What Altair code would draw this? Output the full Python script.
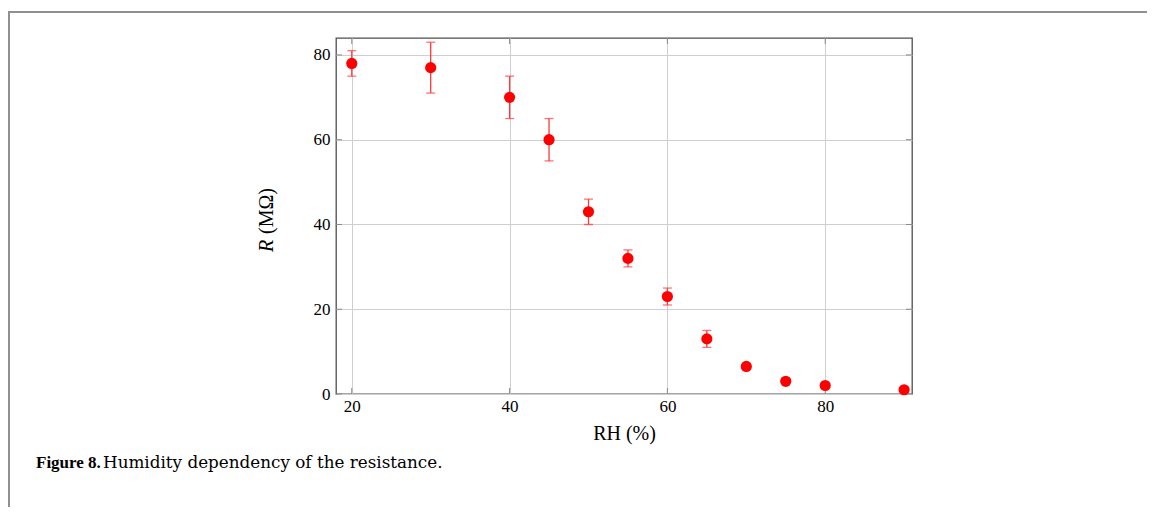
import altair as alt
import pandas as pd

rh = [20, 30, 40, 45, 50, 55, 60, 65, 70, 75, 80, 90]
r = [78, 77, 70, 60, 43, 32, 23, 13, 6.5, 3, 2, 1]
err_rh = [20, 30, 40, 45, 50, 55, 60, 65]
err_lo = [75, 71, 65, 55, 40, 30, 21, 11]
err_hi = [81, 83, 75, 65, 46, 34, 25, 15]
x_ticks = [20, 40, 60, 80]
y_ticks = [0, 20, 40, 60, 80]

df = pd.DataFrame({"rh": rh, "r": r})
de = pd.DataFrame({"rh": err_rh, "lo": err_lo, "hi": err_hi})
dxt = pd.DataFrame({"rh": x_ticks})
dyt = pd.DataFrame({"r": y_ticks})

FONT = "Liberation Serif"
W, H = 576, 356
TICK = 6
TICK_COLOR = "#8a8a8a"

xs = alt.Scale(domain=[18, 91], nice=False, zero=False)
ys = alt.Scale(domain=[0, 84], nice=False)

xaxis = alt.Axis(values=x_ticks, title="RH (%)", grid=True, gridColor="#cfcfcf",
                 ticks=False, domain=False, labelFont=FONT, labelFontSize=17,
                 labelColor="#000", titleFont=FONT, titleFontSize=20,
                 titleFontWeight="normal", titleColor="#000", labelPadding=4,
                 titlePadding=9)
yaxis = alt.Axis(values=y_ticks, title="", grid=True, gridColor="#cfcfcf",
                 ticks=False, domain=False, labelFont=FONT, labelFontSize=17,
                 labelColor="#000", labelPadding=6)

def X(field):
    return alt.X(field + ":Q", scale=xs, axis=xaxis, title="RH (%)")

def Y(field):
    return alt.Y(field + ":Q", scale=ys, axis=yaxis, title="")

points = alt.Chart(df).mark_circle(size=125, color="#ff0000", opacity=1).encode(
    x=X("rh"), y=Y("r"))

ebars = alt.Chart(de).mark_rule(color="#ff3838", strokeWidth=1.3).encode(
    x=X("rh"), y=Y("lo"), y2="hi:Q")
cap_lo = alt.Chart(de).mark_tick(color="#ff3838", thickness=1.3, size=9, orient="horizontal").encode(
    x=X("rh"), y=Y("lo"))
cap_hi = alt.Chart(de).mark_tick(color="#ff3838", thickness=1.3, size=9, orient="horizontal").encode(
    x=X("rh"), y=Y("hi"))

# inward ticks on all four sides
xt_bot = alt.Chart(dxt).mark_rule(color=TICK_COLOR, strokeWidth=1).encode(
    x=X("rh"), y=alt.value(H), y2=alt.value(H - TICK))
xt_top = alt.Chart(dxt).mark_rule(color=TICK_COLOR, strokeWidth=1).encode(
    x=X("rh"), y=alt.value(0), y2=alt.value(TICK))
yt_left = alt.Chart(dyt).mark_rule(color=TICK_COLOR, strokeWidth=1).encode(
    y=Y("r"), x=alt.value(0), x2=alt.value(TICK))
yt_right = alt.Chart(dyt).mark_rule(color=TICK_COLOR, strokeWidth=1).encode(
    y=Y("r"), x=alt.value(W), x2=alt.value(W - TICK))

# ylabel with italic R
ylab_r = alt.Chart(pd.DataFrame({"t": ["R"]})).mark_text(
    font=FONT, fontSize=20, fontStyle="italic", angle=270, align="left",
    baseline="middle", color="#000").encode(
    text="t:N", x=alt.value(-69), y=alt.value(214))
ylab_u = alt.Chart(pd.DataFrame({"t": ["(MΩ)"]})).mark_text(
    font=FONT, fontSize=20, angle=270, align="left",
    baseline="middle", color="#000").encode(
    text="t:N", x=alt.value(-69), y=alt.value(196))

# caption
cap1 = alt.Chart(pd.DataFrame({"t": ["Figure 8."]})).mark_text(
    font=FONT, fontSize=17, fontWeight="bold", align="left",
    baseline="middle", color="#000").encode(
    text="t:N", x=alt.value(-300), y=alt.value(425))
cap2 = alt.Chart(pd.DataFrame({"t": ["Humidity dependency of the resistance."]})).mark_text(
    font="DejaVu Serif", fontSize=16.8, align="left", baseline="middle", color="#000").encode(
    text="t:N", x=alt.value(-233), y=alt.value(425))

# page frame lines
frame_top = alt.Chart(pd.DataFrame({"a": [0]})).mark_rule(color="#909090", strokeWidth=2).encode(
    x=alt.value(-328), x2=alt.value(830), y=alt.value(-26))
frame_left = alt.Chart(pd.DataFrame({"a": [0]})).mark_rule(color="#909090", strokeWidth=2).encode(
    x=alt.value(-327), y=alt.value(-26), y2=alt.value(480))

chart = alt.layer(xt_bot, xt_top, yt_left, yt_right, ebars, cap_lo, cap_hi, points,
                  ylab_r, ylab_u, cap1, cap2, frame_top, frame_left).properties(
    width=W, height=H,
    autosize=alt.AutoSizeParams(type="none"),
    padding={"left": 328, "top": 30, "right": 235, "bottom": 113},
).configure_view(stroke="#4d4d4d", strokeWidth=1.3).configure_axis(
    labelFont=FONT, titleFont=FONT, labelFontSize=17, labelColor="#000")

chart.save("out.html", embed_options={"renderer": "svg", "actions": False})
